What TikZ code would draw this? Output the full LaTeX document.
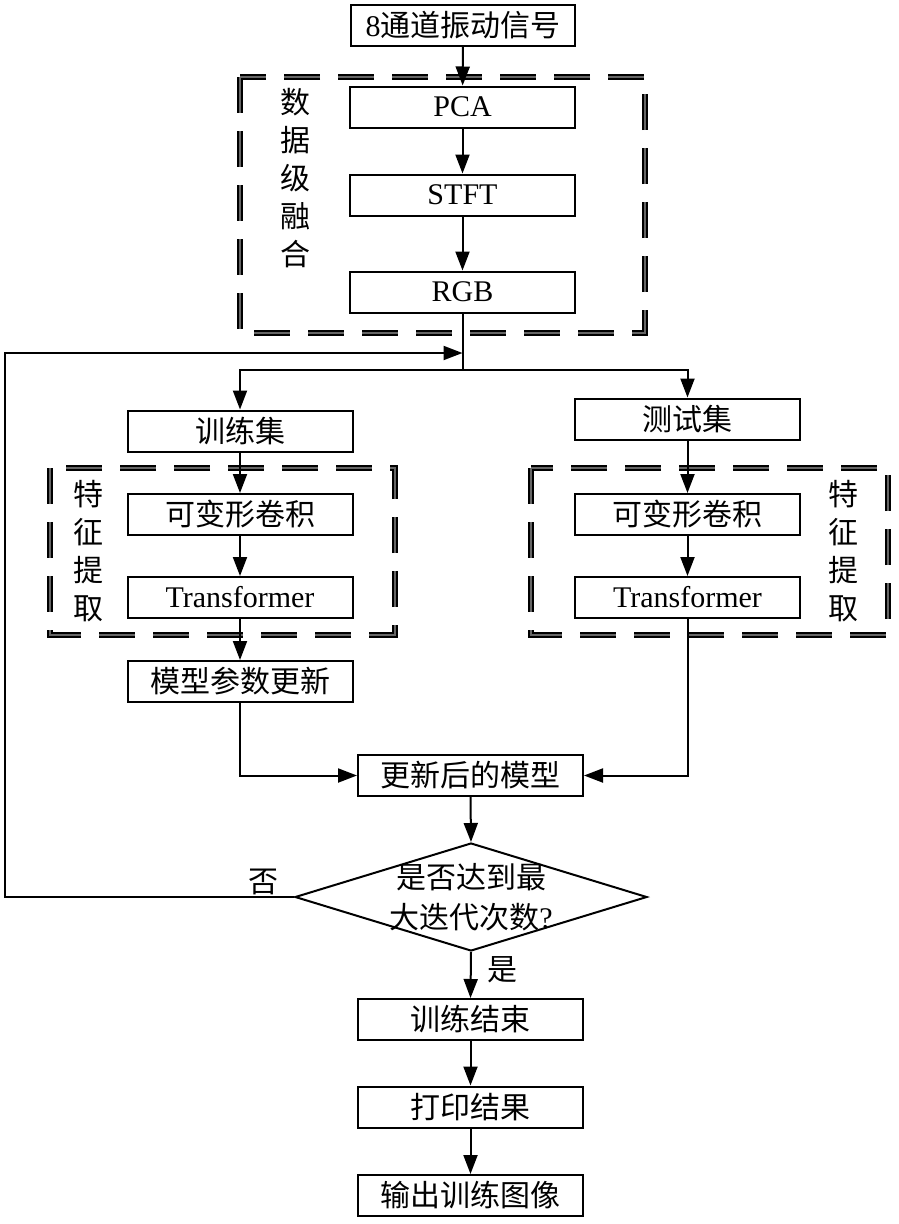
\documentclass[tikz,border=0pt]{standalone}
\usepackage{fontspec}
\setmainfont{Liberation Serif}
\newfontfamily\cjk{Noto Sans CJK SC}
\usetikzlibrary{arrows.meta,shapes.geometric,calc}
\tikzset{
  box/.style={draw, line width=2pt, fill=white, minimum width=225, minimum height=41, inner sep=0pt, font=\fontsize{30}{36}\selectfont},
  arr/.style={line width=2pt, -{Triangle[length=19pt,width=14pt]}},
  ln/.style={line width=2pt},
  dbox/.style={draw=black, line width=1.6pt, double=gray!80!black, double distance=2pt, dash pattern=on 36pt off 18pt},
  vtext/.style={align=center, font=\cjk\fontsize{30}{38}\selectfont, inner sep=0pt},
  lbl/.style={font=\cjk\fontsize{30}{36}\selectfont, inner sep=0pt}
}
\begin{document}
\begin{tikzpicture}[x=1pt,y=1pt]
\useasboundingbox (0,0) rectangle (899,-1224);
% dashed group frames
\draw[dbox] (240,-77) rectangle (645,-333);
\draw[dbox] (50,-468) rectangle (395,-635);
\draw[dbox] (531,-468) rectangle (888,-635);
% nodes
\node[box, minimum width=224] (sig) at (463,-25) {8{\cjk 通道振动信号}};
\node[box] (pca) at (462.5,-107) {PCA};
\node[box] (stft) at (462.5,-195) {STFT};
\node[box] (rgb) at (462.5,-292) {RGB};
\node[vtext] (g1) at (295,-178) {数\\据\\级\\融\\合};
\node[box] (train) at (240,-431) {\cjk 训练集};
\node[box] (test) at (687.5,-419) {\cjk 测试集};
\node[box] (dcl) at (240,-514.5) {\cjk 可变形卷积};
\node[box] (tfl) at (240,-597.5) {Transformer};
\node[box] (dcr) at (687.5,-514.5) {\cjk 可变形卷积};
\node[box] (tfr) at (687.5,-597.5) {Transformer};
\node[vtext] (g2) at (88,-551) {特\\征\\提\\取};
\node[vtext] (g3) at (843,-551) {特\\征\\提\\取};
\node[box] (upd) at (240,-681.5) {\cjk 模型参数更新};
\node[box] (model) at (470.5,-775.5) {\cjk 更新后的模型};
\node[diamond, draw, line width=2pt, minimum width=352, minimum height=108, inner sep=0pt] (dec) at (471,-897) {};
\node[align=center, font=\fontsize{30}{40}\selectfont, inner sep=0pt] (dectext) at (471,-897) {{\cjk 是否达到最}\\{\cjk 大迭代次数}?};
\node[box] (end1) at (470.5,-1019.5) {\cjk 训练结束};
\node[box] (prt) at (470.5,-1107) {\cjk 打印结果};
\node[box] (out) at (470.5,-1195.5) {\cjk 输出训练图像};
\node[lbl] (no) at (263,-882) {否};
\node[lbl] (yes) at (502,-970) {是};
% coordinates
\coordinate (br) at (462.5,-370);
\coordinate (fbc) at (5,-353);
\coordinate (fbt) at (462.5,-353);
% connectors
\draw[arr] (sig) -- (pca);
\draw[arr] (pca) -- (stft);
\draw[arr] (stft) -- (rgb);
\draw[ln] (rgb.south) -- (br);
\draw[arr] (br) -| (train.north);
\draw[arr] (br) -| (test.north);
\draw[arr] (train) -- (dcl);
\draw[arr] (dcl) -- (tfl);
\draw[arr] (tfl) -- (upd);
\draw[arr] (test) -- (dcr);
\draw[arr] (dcr) -- (tfr);
\draw[arr] (upd.south) |- (model.west);
\draw[arr] (tfr.south) |- (model.east);
\draw[arr] (model.south) -- (dec.north);
\draw[arr] (dec.west) -| (fbc) -- (fbt);
\draw[arr] (dec.south) -- (end1.north);
\draw[arr] (end1) -- (prt);
\draw[arr] (prt) -- (out);
\end{tikzpicture}
\end{document}
